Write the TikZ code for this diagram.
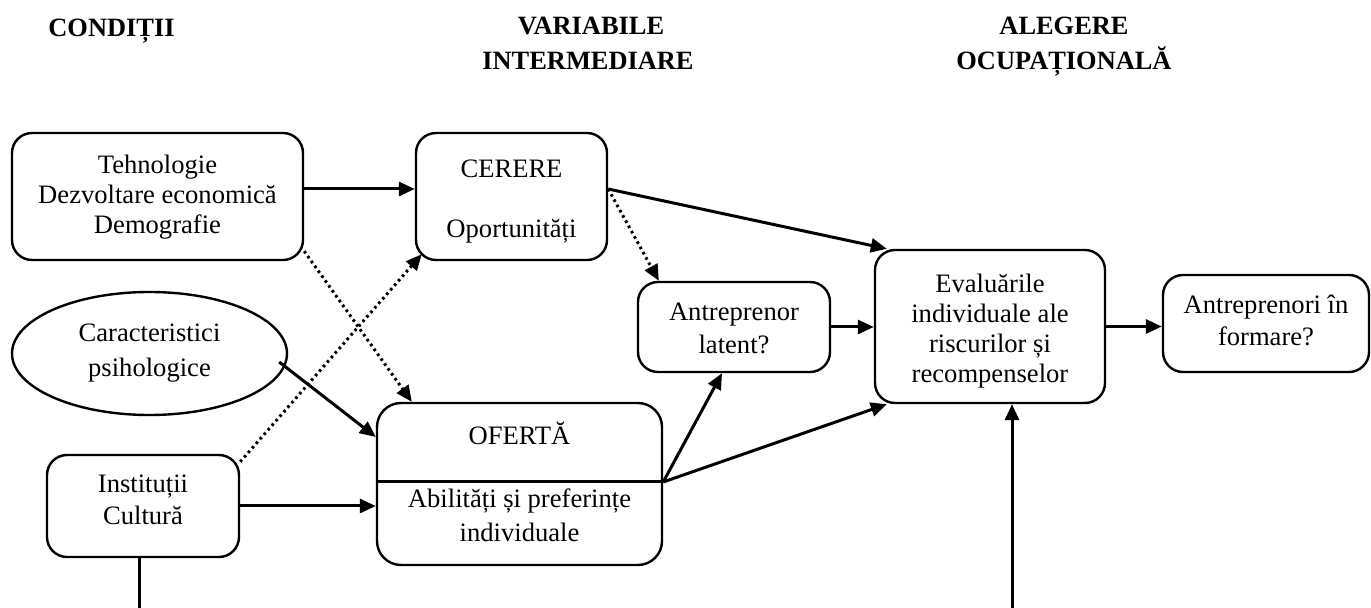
\documentclass[tikz,border=0pt]{standalone}
\usepackage{fontspec}
\setmainfont{Liberation Serif}
\usetikzlibrary{arrows.meta,shapes.geometric}

\begin{document}
\begin{tikzpicture}[x=0.5pt,y=-0.5pt,
  box/.style={draw,line width=1.2pt,rounded corners=10pt,inner sep=0pt},
  txt/.style={align=center,inner sep=0pt,font=\fontsize{13.3}{#1}\selectfont},
  txt/.default=15,
  head/.style={anchor=base,inner sep=0pt,font=\fontsize{13.2}{15}\selectfont\bfseries},
  link/.style={line width=1.5pt,-{Triangle[length=8pt,width=7pt]}},
  dots/.style={link,dash pattern=on 1.3pt off 1.7pt},
  plain/.style={line width=1.5pt}
]
\useasboundingbox (0,0) rectangle (1371,608);

% column headings
\node[head] (hCond) at (111.5,37) {CONDIȚII};
\node[head] (hVarA) at (591,35) {VARIABILE};
\node[head] (hVarB) at (588,70) {INTERMEDIARE};
\node[head] (hAleA) at (1064,35) {ALEGERE};
\node[head] (hAleB) at (1064,70) {OCUPAȚIONALĂ};

% boxes
\node[box,minimum width=145.5pt,minimum height=63.5pt] (tech) at (157.5,196.5) {};
\node[txt] (techT) at (157.5,197) {Tehnologie\\Dezvoltare economică\\Demografie};

\node[box,minimum width=95.5pt,minimum height=63.5pt] (cerere) at (511.5,196.5) {};
\node[txt] (cerereT) at (511.5,202) {CERERE\\[15pt]Oportunități};

\node[draw,ellipse,line width=1.2pt,inner sep=0pt,minimum width=137.5pt,minimum height=61.5pt,
      align=center,font=\fontsize{13.3}{17.5}\selectfont] (psych) at (149.5,353.5) {Caracteristici\\psihologice};

\node[box,minimum width=96pt,minimum height=51pt] (inst) at (143,506) {};
\node[txt=16] (instT) at (143,500) {Instituții\\Cultură};

\node[box,rounded corners=12pt,minimum width=142.5pt,minimum height=81pt] (oferta) at (519.5,484) {};
\node[txt,anchor=base] (ofertaT) at (519.5,445) {OFERTĂ};
\node[txt,anchor=base] (ofertaA) at (519.5,508) {Abilități și preferințe};
\node[txt,anchor=base] (ofertaB) at (519.5,542) {individuale};
\draw[plain] ([yshift=1pt]oferta.west) -- ([yshift=1pt]oferta.east);

\node[box,minimum width=96pt,minimum height=45pt] (ant) at (734,327) {};
\node[txt=16.5] (antT) at (734,328) {Antreprenor\\latent?};

\node[box,minimum width=115pt,minimum height=76.5pt] (eval) at (990,326.5) {};
\node[txt] (evalT) at (990,331.5) {Evaluările\\individuale ale\\riscurilor și\\recompenselor};

\node[box,minimum width=103pt,minimum height=48.5pt] (fut) at (1266,323.5) {};
\node[txt=16] (futT) at (1266,320) {Antreprenori în\\formare?};

% free ends at the lower edge
\coordinate (bottomL) at (139,615);
\coordinate (bottomR) at (1012,615);

% connectors
\draw[link] ([yshift=3.75pt]tech.east) -- ([yshift=3.75pt]cerere.west);
\draw[dots] ([yshift=5pt]tech.south east) -- ([xshift=18pt]oferta.north west);
\draw[dots] ([yshift=-4pt]inst.north east) -- ([xshift=3.5pt,yshift=3.5pt]cerere.south west);
\draw[link] ([xshift=-4.5pt,yshift=-4.25pt]psych.east) -- ([yshift=23.5pt]oferta.west);
\draw[link] (inst.east) -- (inst.east -| oferta.west);
\draw[link] ([yshift=3.75pt]cerere.east) -- ([xshift=6.5pt]eval.north west);
\draw[dots] ([yshift=3.75pt]cerere.east) -- ([xshift=11pt]ant.north west);
\draw[link] (ant.east) -- (ant.east -| eval.west);
\draw[link] ([yshift=1pt]oferta.east) -- ([xshift=-6pt]ant.south);
\draw[link] ([yshift=1pt]oferta.east) -- ([xshift=6.5pt]eval.south west);
\draw[link] (eval.east) -- (eval.east -| fut.west);
\draw[link] (bottomR) -- (bottomR |- eval.south);
\draw[plain] (bottomL |- inst.south) -- (bottomL);
\end{tikzpicture}
\end{document}
